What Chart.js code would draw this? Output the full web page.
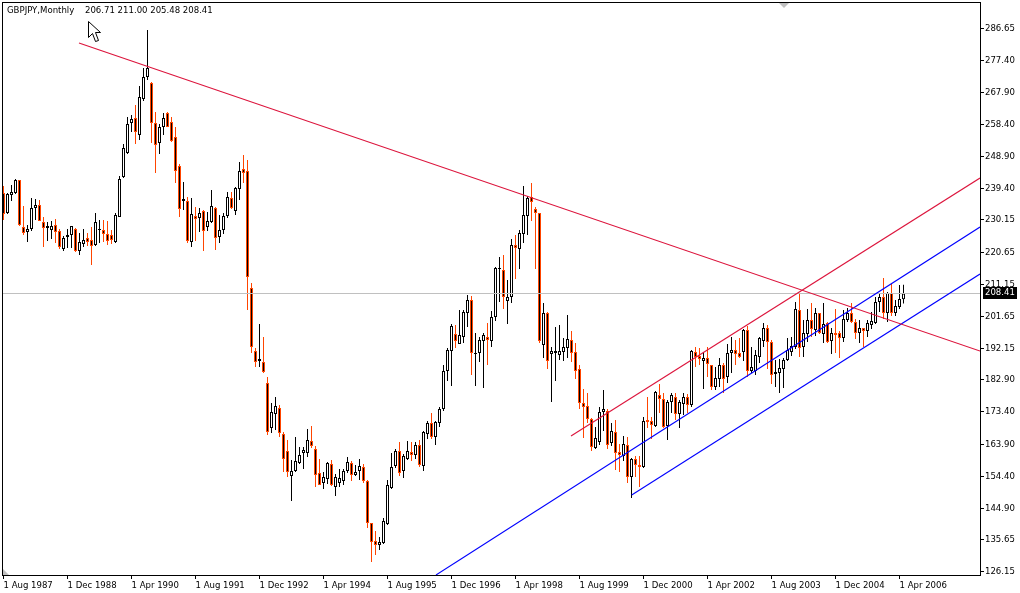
<!DOCTYPE html>
<html>
<head>
<meta charset="utf-8">
<title>GBPJPY Monthly</title>
<script src="https://cdn.jsdelivr.net/npm/chart.js@4/dist/chart.umd.min.js"></script>
<style>
  body { margin: 0; background: #fff; }
  canvas { display: block; }
</style>
</head>
<body>
<canvas id="gbpjpyChart" width="1020" height="593"></canvas>
<script>
const symbolTitle = "GBPJPY,Monthly";

// monthly candles, Aug 1987 to May 2006
const opens = [
  238.12,232.20,237.53,238.12,241.96,228.07,226.59,227.48,233.69,234.58,
  229.55,227.78,227.18,228.66,226.89,221.57,225.11,225.70,227.48,220.97,
  223.05,224.82,224.23,222.75,227.18,227.18,225.99,225.70,223.64,231.03,
  242.85,249.94,258.81,260.29,255.26,265.90,272.41,270.63,258.81,252.90,
  257.63,261.77,259.11,254.67,246.10,235.75,235.75,223.64,231.32,230.73,
  232.80,228.07,229.55,233.69,225.11,227.18,231.32,236.64,232.80,239.30,
  245.21,244.62,210.04,191.41,188.46,188.16,181.95,168.65,172.79,174.56,
  166.88,161.85,154.47,155.94,158.31,161.26,161.26,164.81,162.44,155.35,
  152.40,153.58,158.01,151.21,152.40,152.99,155.94,158.31,154.76,155.94,
  157.12,152.99,140.57,135.25,134.07,134.66,140.27,150.92,157.42,161.85,
  155.94,159.49,161.56,160.67,163.62,157.42,166.88,170.13,165.99,170.13,
  174.27,185.50,191.41,196.44,193.48,195.55,202.65,206.49,190.53,190.82,
  194.37,195.55,194.37,201.46,215.66,215.36,206.19,207.38,222.75,221.57,
  225.99,231.32,236.94,233.39,232.20,193.19,202.65,190.53,190.82,190.23,
  191.12,192.30,194.67,191.12,186.10,176.04,175.15,171.31,162.74,164.51,
  173.38,173.68,164.22,167.47,161.56,160.37,163.62,154.17,159.49,157.72,
  157.12,171.02,170.72,169.24,178.41,177.23,169.24,176.34,177.82,172.79,
  175.75,177.82,175.45,191.12,189.93,188.46,189.34,187.28,180.77,183.14,
  187.28,183.73,190.82,191.71,190.82,191.12,197.62,185.50,185.50,189.64,
  194.37,198.21,194.07,184.62,184.91,186.10,188.75,191.12,192.59,203.53,
  192.59,196.44,200.58,197.62,202.65,196.44,199.69,194.37,196.73,196.73,
  195.26,200.58,202.65,199.99,196.73,198.21,197.33,199.10,199.69,205.90,
  207.38,202.65,208.56,202.65,204.42,206.71
];
const highs = [
  240.19,238.12,240.48,242.26,241.96,234.28,228.66,236.64,236.35,236.05,
  231.03,229.55,229.84,230.43,227.48,225.41,227.48,228.37,227.78,226.29,
  227.48,226.29,228.07,232.20,230.14,230.14,229.84,227.18,232.20,243.15,
  252.60,260.58,261.17,264.13,269.75,275.07,286.30,270.93,262.06,258.52,
  261.77,262.06,260.58,257.63,246.69,241.37,236.94,236.64,233.98,233.69,
  233.09,232.50,239.01,233.98,231.62,232.20,238.42,238.42,239.89,247.28,
  249.35,247.87,211.52,192.30,199.39,195.55,183.73,176.04,177.82,175.45,
  167.47,165.11,159.19,165.99,163.03,163.03,168.36,169.24,163.33,159.49,
  155.65,158.60,159.19,155.06,156.53,156.53,160.08,158.90,157.72,159.49,
  158.01,153.28,140.57,138.20,136.43,142.05,153.28,161.26,162.44,164.51,
  160.97,164.81,164.51,164.51,165.11,167.77,170.72,173.08,170.72,174.86,
  187.28,192.30,199.39,199.10,203.53,203.53,207.97,207.67,196.73,195.55,
  196.73,199.69,203.24,216.25,219.20,219.79,212.40,224.52,225.70,227.18,
  240.19,237.23,241.07,233.98,232.20,205.60,202.94,192.59,198.51,199.10,
  195.26,202.05,197.33,193.78,187.28,180.18,179.00,171.61,168.95,174.86,
  179.89,174.27,170.13,171.02,163.92,166.29,165.99,159.78,160.37,160.37,
  171.91,177.82,171.91,179.59,181.66,179.00,176.93,179.00,179.00,176.93,
  179.00,178.70,191.71,192.59,192.30,191.12,192.59,187.28,186.69,189.34,
  187.87,193.48,195.55,194.67,195.26,197.92,198.80,192.59,191.71,195.55,
  199.69,199.10,194.67,188.75,189.05,189.34,195.26,195.55,205.90,208.56,
  200.58,203.83,205.60,204.12,202.65,205.60,199.99,198.21,203.83,197.33,
  203.53,204.12,205.60,200.87,200.58,198.21,200.58,202.94,207.38,208.56,
  212.99,208.85,211.22,206.49,210.92,211.00
];
const lows = [
  230.14,231.91,235.75,237.83,228.37,225.70,223.64,226.89,230.14,229.84,
  222.16,223.93,224.52,223.34,221.57,220.97,221.86,221.86,220.68,219.79,
  222.16,222.45,216.84,222.45,223.34,223.64,222.75,223.05,223.34,231.03,
  242.55,249.65,256.15,252.60,253.79,265.31,271.52,252.90,244.03,249.65,
  255.26,257.63,253.19,241.07,231.03,233.09,223.34,222.16,223.93,226.59,
  220.97,226.89,229.25,221.27,223.34,225.99,230.73,233.39,231.62,236.05,
  241.07,203.53,190.82,186.69,186.69,184.91,166.58,167.17,168.06,165.99,
  155.65,154.17,147.07,155.65,158.01,156.53,160.08,162.74,151.21,151.80,
  150.62,152.10,151.51,148.55,151.21,151.80,155.35,152.99,154.47,153.28,
  152.40,139.09,129.04,131.11,132.59,134.36,139.98,150.62,156.83,154.47,
  153.87,159.19,158.90,159.49,157.12,155.94,165.40,165.40,163.62,168.95,
  173.68,182.54,181.07,192.30,193.48,193.78,198.51,184.32,181.07,188.16,
  180.48,187.28,192.59,200.28,205.90,203.83,199.39,205.60,212.70,215.66,
  223.34,225.70,229.84,215.66,193.78,189.34,186.10,176.34,182.54,188.75,
  188.46,189.34,188.16,183.14,174.27,165.70,170.13,161.85,162.44,163.62,
  167.77,162.44,163.33,156.24,155.65,158.90,152.40,147.96,154.17,151.21,
  156.83,168.65,165.40,168.95,173.08,168.65,165.11,173.08,171.02,168.65,
  172.49,173.08,174.86,186.69,187.28,180.18,183.73,179.89,179.89,180.77,
  179.00,181.95,184.91,187.28,189.34,188.46,183.73,184.91,184.32,187.87,
  192.59,186.10,181.66,180.77,179.00,180.48,188.46,189.93,192.00,189.64,
  189.64,194.07,195.55,195.85,196.44,193.78,193.78,190.53,190.82,189.34,
  194.07,199.99,199.69,194.96,193.78,192.59,195.55,197.92,199.39,202.94,
  200.87,199.99,201.76,201.76,203.83,205.48
];
const closes = [
  231.91,237.83,238.42,241.96,228.66,226.29,227.48,233.69,234.58,229.84,
  227.78,228.37,228.37,226.59,222.16,224.82,225.70,228.37,220.97,223.64,
  224.23,223.64,222.45,229.55,227.48,225.99,223.93,224.23,231.62,242.26,
  251.42,258.52,260.00,256.15,266.50,272.41,275.07,258.81,252.31,257.63,
  260.29,257.63,253.49,244.62,233.39,236.35,223.93,231.91,230.43,232.20,
  226.89,229.84,234.28,224.82,227.18,231.32,236.94,233.69,239.60,244.62,
  244.03,213.29,192.59,188.16,189.05,185.21,167.47,173.38,175.15,167.17,
  159.49,155.65,155.94,158.90,160.67,162.15,165.11,163.33,154.76,151.80,
  154.17,158.31,151.80,154.17,153.87,155.94,158.60,154.76,155.65,157.42,
  152.99,140.57,134.96,134.07,134.96,141.16,151.80,157.12,161.85,155.35,
  160.37,161.85,160.67,163.62,157.72,167.47,170.13,165.99,170.43,174.27,
  185.50,191.71,198.80,194.37,196.14,202.94,206.49,190.82,190.82,194.67,
  196.14,194.67,201.46,215.95,215.95,207.38,207.38,222.75,221.86,226.29,
  231.62,236.64,235.46,232.20,194.37,202.65,188.46,191.41,191.41,191.41,
  192.59,194.96,190.82,185.50,176.04,174.86,171.31,163.03,165.70,173.38,
  174.27,163.62,167.77,161.26,160.67,163.92,154.17,159.49,157.72,157.12,
  170.72,170.43,169.54,179.29,177.23,168.95,176.34,178.41,172.79,176.34,
  177.82,175.45,191.41,189.64,189.05,189.34,187.57,180.77,183.43,187.28,
  183.14,190.82,191.71,190.53,189.64,197.62,185.50,186.69,190.23,195.26,
  198.21,194.07,184.32,185.21,186.39,188.75,191.71,192.89,203.83,192.30,
  196.73,200.58,197.92,202.65,196.73,199.39,194.07,196.73,196.14,195.26,
  200.87,202.65,199.99,196.73,198.21,197.33,199.69,200.28,205.90,207.38,
  202.65,208.56,202.65,204.72,206.79,208.41
];

const xTickIndex = [0, 16, 32, 48, 64, 80, 96, 112, 128, 144, 160, 176, 192, 208, 224];
const xTickLabels = [
  "1 Aug 1987", "1 Dec 1988", "1 Apr 1990", "1 Aug 1991", "1 Dec 1992",
  "1 Apr 1994", "1 Aug 1995", "1 Dec 1996", "1 Apr 1998", "1 Aug 1999",
  "1 Dec 2000", "1 Apr 2002", "1 Aug 2003", "1 Dec 2004", "1 Apr 2006"
];
const yTicks = [
  286.65, 277.40, 267.90, 258.40, 248.90, 239.40, 230.15, 220.65, 211.15,
  201.65, 192.15, 182.90, 173.40, 163.90, 154.40, 144.90, 135.65, 126.15
];

// hand drawn lines on the terminal chart
const resistanceX = [18.875, 244.125];
const resistanceY = [282.46, 191.41];
const channelRedX = [141.875, 244.125];
const channelRedY = [166.29, 242.55];
const channelBlueX = [108.125, 244.125];
const channelBlueY = [125.20, 228.07];
const supportBlueX = [157.05, 244.125];
const supportBlueY = [148.85, 214.18];

const X_MIN = -0.375;
const X_MAX = 244.125;
const Y_MIN = 125.20;
const Y_MAX = 294.58;

const UP = "#000000";
const DOWN = "#ff4500";
const FONT_FAMILY = "'DejaVu Sans Condensed', 'Liberation Sans', Arial, sans-serif";
const FONT_SIZE = 9.5;
const FONT = FONT_SIZE + "px " + FONT_FAMILY;

const index = opens.map((_, i) => i);
const isUp = index.map((i) => closes[i] >= opens[i]);
const last = opens.length - 1;

const lineSet = (xs, ys, color, width) => ({
  type: "line",
  data: xs.map((x, i) => ({ x: x, y: ys[i] })),
  borderColor: color,
  borderWidth: width,
  pointRadius: 0,
  tension: 0,
  order: 0,
});

// frame, header text, price tag and the stray mouse pointer
const overlay = {
  id: "overlay",
  afterDraw(chart) {
    const ctx = chart.ctx;
    const y = chart.scales.y;
    ctx.save();
    ctx.strokeStyle = "#000";
    ctx.lineWidth = 1;
    ctx.strokeRect(2.5, 2.5, 978, 573);

    ctx.fillStyle = "#c0c0c0";
    ctx.beginPath();
    ctx.moveTo(779, 3);
    ctx.lineTo(789, 3);
    ctx.lineTo(784, 8);
    ctx.fill();
    ctx.beginPath();
    ctx.moveTo(3, 569);
    ctx.lineTo(9, 575);
    ctx.lineTo(3, 575);
    ctx.fill();

    ctx.font = FONT;
    ctx.textBaseline = "middle";
    ctx.textAlign = "left";
    ctx.fillStyle = "#000";
    ctx.fillText(symbolTitle, 7, 11);
    ctx.fillText(
      [opens[last], highs[last], lows[last], closes[last]].map((v) => v.toFixed(2)).join(" "),
      85, 11
    );

    const tagY = Math.floor(y.getPixelForValue(closes[last]));
    ctx.fillStyle = "#000";
    ctx.fillRect(983, tagY - 6, 34, 12);
    ctx.fillStyle = "#fff";
    ctx.fillText(closes[last].toFixed(2), 985, tagY);

    ctx.beginPath();
    ctx.moveTo(88.5, 21.5);
    ctx.lineTo(88.5, 37.5);
    ctx.lineTo(92.5, 33.5);
    ctx.lineTo(95.5, 41.5);
    ctx.lineTo(98.5, 40.5);
    ctx.lineTo(95.5, 32.5);
    ctx.lineTo(100.5, 32.5);
    ctx.closePath();
    ctx.fillStyle = "#fff";
    ctx.fill();
    ctx.strokeStyle = "#000";
    ctx.stroke();
    ctx.restore();
  },
};

new Chart(document.getElementById("gbpjpyChart"), {
  type: "bar",
  data: {
    datasets: [
      {
        data: index.map((i) => ({ x: i, y: [lows[i], highs[i]] })),
        backgroundColor: index.map((i) => (isUp[i] ? UP : DOWN)),
        borderWidth: 0,
        inflateAmount: 0,
        barThickness: 1,
        grouped: false,
        order: 2,
      },
      {
        data: index.map((i) => ({ x: i, y: [opens[i], closes[i]] })),
        backgroundColor: index.map((i) => (isUp[i] ? "#ffffff" : "#000000")),
        borderColor: index.map((i) => (isUp[i] ? UP : DOWN)),
        borderWidth: 1,
        borderSkipped: false,
        inflateAmount: 0,
        barThickness: 3,
        grouped: false,
        order: 1,
      },
      lineSet(resistanceX, resistanceY, "#dc143c", 1.1),
      lineSet(channelRedX, channelRedY, "#dc143c", 1.1),
      lineSet(channelBlueX, channelBlueY, "#0000ff", 1.1),
      lineSet(supportBlueX, supportBlueY, "#0000ff", 1.1),
      lineSet([X_MIN, X_MAX], [closes[last], closes[last]], "#c0c0c0", 1),
    ],
  },
  options: {
    responsive: false,
    animation: false,
    events: [],
    layout: { padding: { left: 2, top: 2, right: 0, bottom: 0 } },
    plugins: { legend: { display: false }, tooltip: { enabled: false } },
    scales: {
      x: {
        type: "linear",
        offset: false,
        bounds: "data",
        min: X_MIN,
        max: X_MAX,
        afterBuildTicks: (scale) => {
          scale.ticks = xTickIndex.map((v) => ({ value: v }));
        },
        afterFit: (scale) => {
          scale.height = 18;
          scale.paddingLeft = 0;
          scale.paddingRight = 0;
        },
        grid: { offset: false, drawOnChartArea: false, color: "#000", tickLength: 4, tickColor: "#000" },
        border: { color: "#000" },
        ticks: {
          autoSkip: false,
          maxRotation: 0,
          align: "start",
          padding: 1,
          color: "#000",
          font: { family: FONT_FAMILY, size: FONT_SIZE },
          callback: (value, i) => xTickLabels[i],
        },
      },
      y: {
        type: "linear",
        position: "right",
        bounds: "data",
        min: Y_MIN,
        max: Y_MAX,
        afterBuildTicks: (scale) => {
          scale.ticks = yTicks.map((v) => ({ value: v }));
        },
        afterFit: (scale) => {
          scale.width = 40;
          scale.paddingTop = 0;
          scale.paddingBottom = 0;
        },
        grid: { drawOnChartArea: false, color: "#000", tickLength: 4, tickColor: "#000" },
        border: { color: "#000" },
        ticks: {
          autoSkip: false,
          padding: 1,
          color: "#000",
          font: { family: FONT_FAMILY, size: FONT_SIZE },
          callback: (value) => value.toFixed(2),
        },
      },
    },
  },
  plugins: [overlay],
});
</script>
</body>
</html>
